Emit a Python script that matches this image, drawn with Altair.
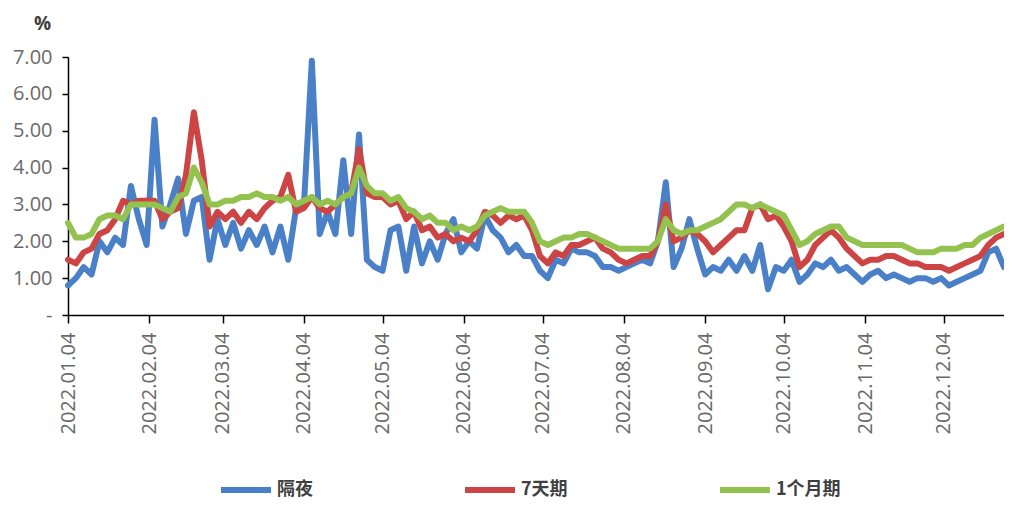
import altair as alt
import pandas as pd

series_names = ["隔夜", "7天期", "1个月期"]
series_colors = ["#4a80c8", "#cc4444", "#93c24f"]

start_date = "2022-01-04"
n_points = 120
step = "3D"

blue = [0.8,1.0,1.3,1.1,2.0,1.7,2.1,1.9,3.5,2.6,
        1.9,5.3,2.4,3.0,3.7,2.2,3.1,3.2,1.5,2.6,
        1.9,2.5,1.8,2.3,1.9,2.4,1.7,2.4,1.5,2.9,
        3.0,6.9,2.2,2.8,2.2,4.2,2.2,4.9,1.5,1.3,
        1.2,2.3,2.4,1.2,2.4,1.4,2.0,1.5,2.2,2.6,
        1.7,2.0,1.8,2.7,2.3,2.1,1.7,1.9,1.6,1.6,
        1.2,1.0,1.5,1.4,1.8,1.7,1.7,1.6,1.3,1.3,
        1.2,1.3,1.4,1.5,1.4,2.0,3.6,1.3,1.8,2.6,
        1.8,1.1,1.3,1.2,1.5,1.2,1.6,1.2,1.9,0.7,
        1.3,1.2,1.5,0.9,1.1,1.4,1.3,1.5,1.2,1.3,
        1.1,0.9,1.1,1.2,1.0,1.1,1.0,0.9,1.0,1.0,
        0.9,1.0,0.8,0.9,1.0,1.1,1.2,1.7,1.8,1.3]

red = [1.5,1.4,1.7,1.8,2.2,2.3,2.6,3.1,3.0,3.1,
       3.1,3.1,2.6,2.8,2.9,3.8,5.5,4.2,2.4,2.8,
       2.6,2.8,2.5,2.8,2.6,2.9,3.1,3.2,3.8,2.8,
       2.9,3.2,2.9,2.8,3.0,3.2,3.3,4.5,3.3,3.2,
       3.2,3.0,3.1,2.6,2.8,2.3,2.4,2.1,2.2,2.0,
       2.1,2.0,2.3,2.8,2.7,2.5,2.7,2.6,2.7,2.3,
       1.6,1.4,1.7,1.6,1.9,1.9,2.0,2.1,1.8,1.7,
       1.5,1.4,1.5,1.6,1.6,2.0,3.0,2.0,2.1,2.3,
       2.2,2.0,1.7,1.9,2.1,2.3,2.3,2.9,3.0,2.6,
       2.7,2.4,2.0,1.3,1.5,1.9,2.1,2.3,2.1,1.8,
       1.6,1.4,1.5,1.5,1.6,1.6,1.5,1.4,1.4,1.3,
       1.3,1.3,1.2,1.3,1.4,1.5,1.6,1.9,2.1,2.2]

green = [2.5,2.1,2.1,2.2,2.6,2.7,2.7,2.6,3.0,3.0,
         3.0,3.0,2.9,2.8,3.2,3.3,4.0,3.6,3.0,3.0,
         3.1,3.1,3.2,3.2,3.3,3.2,3.2,3.1,3.2,3.0,
         3.1,3.2,3.0,3.1,3.0,3.2,3.3,4.0,3.5,3.3,
         3.3,3.1,3.2,2.9,2.8,2.6,2.7,2.5,2.5,2.3,
         2.4,2.3,2.4,2.7,2.8,2.9,2.8,2.8,2.8,2.5,
         2.0,1.9,2.0,2.1,2.1,2.2,2.2,2.1,2.0,1.9,
         1.8,1.8,1.8,1.8,1.8,2.0,2.6,2.3,2.2,2.3,
         2.3,2.4,2.5,2.6,2.8,3.0,3.0,2.9,3.0,2.9,
         2.8,2.7,2.3,1.9,2.0,2.2,2.3,2.4,2.4,2.1,
         2.0,1.9,1.9,1.9,1.9,1.9,1.9,1.8,1.7,1.7,
         1.7,1.8,1.8,1.8,1.9,1.9,2.1,2.2,2.3,2.4]

tick_dates = ["2022-01-04", "2022-02-04", "2022-03-04", "2022-04-04",
              "2022-05-04", "2022-06-04", "2022-07-04", "2022-08-04",
              "2022-09-04", "2022-10-04", "2022-11-04", "2022-12-04"]
y_ticks = [0, 1, 2, 3, 4, 5, 6, 7]

dates = pd.date_range(start_date, periods=n_points, freq=step)
rows = []
for k, (name, vals) in enumerate(zip(series_names, [blue, red, green])):
    assert len(vals) == n_points
    for d, v in zip(dates, vals):
        rows.append({"date": d.strftime("%Y-%m-%d"), "value": v, "series": name, "k": k})
df = pd.DataFrame(rows)


def dt(s):
    y, m, d = s.split("-")
    return alt.DateTime(year=int(y), month=int(m), date=int(d), utc=True)


x_domain = [dt(dates[0].strftime("%Y-%m-%d")), dt(dates[-1].strftime("%Y-%m-%d"))]

chart = alt.Chart(df).mark_line(strokeWidth=6, strokeJoin="round", strokeCap="round").encode(
    x=alt.X("date:T",
            scale=alt.Scale(domain=x_domain, nice=False),
            axis=alt.Axis(values=[dt(s) for s in tick_dates],
                          labelExpr="utcFormat(datum.value, '%Y.%m.%d')",
                          labelAngle=-90, labelAlign="right", labelBaseline="middle",
                          labelFontSize=20, labelFont="Open Sans", labelColor="#6a6a6a",
                          labelPadding=9, tickSize=8, tickColor="#000000", tickWidth=1.5,
                          domainColor="#000000", domainWidth=1.5, grid=False,
                          title=None, labelOverlap=False)),
    y=alt.Y("value:Q",
            scale=alt.Scale(domain=[0, 7], nice=False, zero=True),
            axis=alt.Axis(values=y_ticks,
                          labelExpr="datum.value == 0 ? '-' : format(datum.value, '.2f')",
                          labelFontSize=20, labelFont="Open Sans", labelColor="#6a6a6a",
                          labelPadding=10, tickSize=6, tickColor="#000000", tickWidth=1.5,
                          domainColor="#000000", domainWidth=1.5, grid=False,
                          title="%", titleAngle=0, titleX=-26, titleY=-34,
                          titleAlign="center", titleBaseline="middle",
                          titleFontSize=19, titleFont="Open Sans", titleFontWeight="bold",
                          titleColor="#404040")),
    color=alt.Color("series:N",
                    scale=alt.Scale(domain=series_names, range=series_colors),
                    legend=alt.Legend(orient="none", direction="horizontal",
                                      legendX=150, legendY=405, title=None,
                                      symbolType="stroke", symbolSize=2500,
                                      symbolStrokeWidth=6, labelFontSize=18,
                                      labelFont="Noto Sans CJK SC", labelFontWeight="bold",
                                      labelColor="#404040", columnPadding=140,
                                      labelOffset=3)),
    order=alt.Order("k:Q"),
).properties(
    width=936, height=258,
    autosize=alt.AutoSizeParams(type="none"),
    padding={"left": 60, "top": 49, "right": 0, "bottom": 187},
).configure_view(stroke=None)

chart.save("out.html", embed_options={"renderer": "svg", "actions": False})
